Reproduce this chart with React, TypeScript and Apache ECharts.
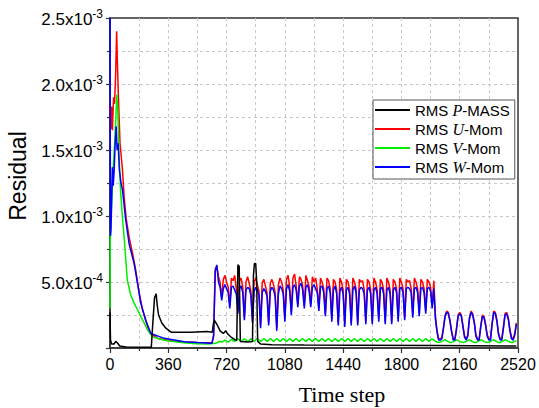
import React, { useEffect, useRef } from 'react';
import * as echarts from 'echarts';

// Values in units of 1e-4
const seriesLetters = ['P', 'U', 'V', 'W'];
const seriesSuffix = ['-MASS', '-Mom', '-Mom', '-Mom'];
const seriesColors = ['#000000', '#ff0000', '#00ee00', '#0000ff'];
const xTitle = 'Time step';
const yTitle = 'Residual';

// P-MASS (black) : [time step, residual x1e-4]
const pMass = [
  [0, 2.7], [3, 0.6], [10, 0.3], [25, 0.3], [35, 0.5], [45, 0.4], [60, 0.15], [100, 0.08], [200, 0.05],
  [255, 0.05], [265, 2.0], [275, 3.8], [285, 4.1], [292, 3.2], [300, 2.5], [320, 1.9], [345, 1.5],
  [377, 1.2], [420, 1.2], [500, 1.2], [600, 1.25], [632, 1.2], [638, 1.8], [645, 2.1], [660, 1.8],
  [680, 1.3], [700, 1.1], [715, 1.3], [725, 1.1], [750, 0.8], [775, 0.6], [783, 0.6], [790, 6.3],
  [798, 6.2], [805, 0.5], [850, 0.45], [880, 0.5], [886, 5.5], [892, 6.4], [900, 6.4], [906, 5.0],
  [912, 0.5], [930, 0.3], [1000, 0.25], [1200, 0.22], [1500, 0.2], [2000, 0.18], [2510, 0.15],
];

// early part (t < 600) of U, V, W
const uEarly = [
  [0, 19.0], [5, 16.6], [10, 18.3], [15, 16.5], [22, 19.0], [28, 18.5], [35, 20.8], [41, 24.0],
  [46, 21.5], [52, 19.0], [62, 15.5], [77, 13.5], [87, 11.5], [100, 9.8], [118, 8.4], [139, 7.2],
  [159, 5.9], [180, 4.2], [201, 2.9], [232, 1.6], [252, 1.1], [294, 0.73], [377, 0.55], [459, 0.45],
  [540, 0.42],
];
const vEarly = [
  [0, 3.0], [2, 8.2], [10, 11.0], [20, 13.7], [30, 15.8], [36, 17.5], [42, 19.2], [48, 18.0],
  [55, 15.0], [65, 12.0], [76, 10.0], [87, 8.4], [107, 5.15], [128, 4.0], [149, 3.4], [170, 2.9],
  [190, 2.4], [211, 1.9], [232, 1.36], [263, 0.86], [300, 0.7], [352, 0.55], [455, 0.4], [540, 0.32],
];
const wEarly = [
  [0, 25.0], [3, 8.5], [6, 9.0], [10, 11.0], [15, 13.7], [20, 12.3], [25, 13.3], [32, 15.5],
  [38, 16.8], [44, 15.0], [50, 15.5], [58, 13.5], [68, 12.5], [77, 12.0], [97, 9.7], [118, 7.9],
  [149, 6.4], [170, 4.9], [190, 3.4], [221, 2.1], [252, 1.1], [335, 0.73], [459, 0.48], [540, 0.42],
];

// regular samples from t = 600, every 10 steps, up to 2510
const GRID_START = 600;
const GRID_STEP = 10;
const uGrid = [
  0.4, 0.4, 0.4, 0.42, 1.0, 6.0, 6.2, 5.4, 5.0, 3.8,
  5.2, 5.5, 5.0, 4.6, 3.2, 5.3, 5.1, 5.5, 4.5, 2.8,
  5.1, 5.3, 4.6, 2.3, 5.0, 5.4, 4.9, 4.3, 2.1, 5.0,
  5.3, 4.8, 4.3, 1.7, 4.9, 5.2, 4.7, 4.2, 1.9, 4.9,
  5.2, 4.8, 4.2, 1.5, 4.8, 5.3, 5.0, 4.4, 2.2, 5.2,
  5.5, 4.6, 2.7, 5.3, 5.6, 4.7, 3.3, 5.4, 5.2, 4.7,
  3.2, 5.5, 5.1, 4.6, 3.3, 5.4, 5.0, 5.3, 4.5, 3.0,
  5.3, 5.0, 4.5, 2.6, 5.3, 5.1, 4.5, 2.2, 5.2, 5.0,
  4.4, 1.9, 5.3, 5.0, 4.4, 1.8, 5.2, 5.0, 4.4, 1.9,
  5.3, 5.0, 4.5, 1.9, 5.2, 5.0, 5.1, 4.4, 2.0, 5.2,
  5.0, 4.4, 2.0, 5.3, 5.0, 4.4, 2.2, 5.2, 5.0, 4.4,
  2.0, 5.3, 5.0, 4.4, 2.0, 5.2, 5.0, 4.5, 2.2, 5.3,
  5.0, 4.5, 2.3, 5.2, 5.0, 5.1, 4.5, 2.5, 5.3, 5.0,
  4.5, 2.6, 5.2, 5.0, 4.5, 2.8, 5.2, 5.0, 4.6, 3.2,
  5.1, 2.4, 1.3, 0.7, 0.7, 0.8, 1.6, 2.5, 2.8, 2.7,
  2.1, 1.3, 0.7, 0.7, 1.5, 2.5, 2.7, 2.5, 1.7, 0.9,
  0.7, 1.0, 2.3, 2.8, 2.6, 2.0, 1.0, 0.7, 0.7, 1.7,
  2.5, 2.4, 1.8, 1.0, 0.7, 0.7, 1.9, 2.8, 2.7, 2.1,
  1.1, 0.7, 0.7, 1.6, 2.6, 2.7, 2.3, 1.4, 0.8, 0.7,
  1.1, 1.9,
];
const vGrid = [
  0.3, 0.3, 0.32, 0.35, 0.35, 0.35, 0.4, 0.45, 0.5, 0.45,
  0.5, 0.6, 0.5, 0.45, 0.55, 0.65, 0.55, 0.5, 0.6, 0.7,
  0.6, 0.5, 0.6, 0.7, 0.6, 0.5, 0.55, 0.7, 0.6, 0.5,
  0.6, 0.72, 0.6, 0.5, 0.6, 0.72, 0.62, 0.5, 0.6, 0.72,
  0.62, 0.5, 0.6, 0.72, 0.62, 0.5, 0.6, 0.72, 0.62, 0.5,
  0.6, 0.72, 0.62, 0.5, 0.62, 0.72, 0.6, 0.5, 0.62, 0.72,
  0.6, 0.5, 0.62, 0.72, 0.6, 0.5, 0.62, 0.72, 0.6, 0.5,
  0.62, 0.72, 0.6, 0.5, 0.62, 0.72, 0.6, 0.5, 0.6, 0.72,
  0.62, 0.5, 0.6, 0.72, 0.62, 0.5, 0.6, 0.72, 0.6, 0.5,
  0.62, 0.72, 0.6, 0.5, 0.62, 0.72, 0.6, 0.5, 0.6, 0.72,
  0.62, 0.5, 0.6, 0.72, 0.6, 0.5, 0.62, 0.72, 0.6, 0.5,
  0.6, 0.72, 0.62, 0.5, 0.6, 0.72, 0.6, 0.5, 0.62, 0.72,
  0.6, 0.5, 0.6, 0.72, 0.62, 0.5, 0.6, 0.72, 0.6, 0.5,
  0.62, 0.72, 0.6, 0.5, 0.6, 0.72, 0.62, 0.5, 0.6, 0.7,
  0.6, 0.5, 0.45, 0.42, 0.45, 0.5, 0.58, 0.62, 0.55, 0.48,
  0.42, 0.42, 0.48, 0.55, 0.62, 0.58, 0.5, 0.45, 0.42, 0.45,
  0.5, 0.58, 0.62, 0.55, 0.48, 0.42, 0.42, 0.48, 0.55, 0.62,
  0.58, 0.5, 0.45, 0.42, 0.45, 0.5, 0.58, 0.62, 0.55, 0.48,
  0.42, 0.42, 0.48, 0.55, 0.62, 0.58, 0.5, 0.45, 0.42, 0.45,
  0.5, 0.55,
];
const wGrid = [
  0.38, 0.36, 0.36, 0.35, 0.9, 5.8, 6.3, 5.0, 4.6, 3.6,
  4.5, 4.8, 4.5, 4.2, 3.0, 4.6, 4.7, 4.4, 4.1, 2.6,
  4.5, 4.7, 4.2, 2.1, 4.4, 4.6, 4.5, 4.0, 1.9, 4.3,
  4.6, 4.4, 4.0, 1.5, 4.2, 4.5, 4.3, 3.9, 1.7, 4.3,
  4.6, 4.4, 3.9, 1.3, 4.1, 4.7, 4.5, 4.1, 2.0, 4.5,
  4.8, 4.3, 2.5, 4.6, 4.8, 4.4, 3.1, 4.7, 4.9, 4.4,
  3.0, 4.6, 4.8, 4.3, 3.1, 4.6, 4.8, 4.5, 4.2, 2.8,
  4.6, 4.7, 4.2, 2.4, 4.5, 4.7, 4.2, 2.0, 4.4, 4.7,
  4.1, 1.7, 4.3, 4.6, 4.1, 1.6, 4.4, 4.6, 4.1, 1.7,
  4.4, 4.7, 4.2, 1.7, 4.4, 4.6, 4.5, 4.1, 1.8, 4.4,
  4.6, 4.1, 1.8, 4.4, 4.6, 4.1, 2.0, 4.5, 4.6, 4.1,
  1.8, 4.4, 4.6, 4.1, 1.8, 4.4, 4.6, 4.2, 2.0, 4.5,
  4.6, 4.2, 2.1, 4.5, 4.6, 4.5, 4.2, 2.3, 4.5, 4.6,
  4.2, 2.4, 4.5, 4.6, 4.2, 2.6, 4.5, 4.6, 4.3, 3.0,
  4.5, 2.2, 1.2, 0.6, 0.6, 0.7, 1.5, 2.4, 2.7, 2.6,
  2.0, 1.2, 0.6, 0.6, 1.4, 2.4, 2.6, 2.4, 1.6, 0.8,
  0.6, 0.9, 2.2, 2.7, 2.5, 1.9, 0.9, 0.6, 0.6, 1.6,
  2.4, 2.3, 1.7, 0.9, 0.6, 0.6, 1.8, 2.7, 2.6, 2.0,
  1.0, 0.6, 0.6, 1.5, 2.5, 2.6, 2.2, 1.3, 0.7, 0.6,
  1.0, 1.8,
];

const UNIT = 1e-4;

function build(early: number[][], grid: number[]) {
  const a = early.map(([t, v]) => [t, v * UNIT]);
  const b = grid.map((v, i) => [GRID_START + i * GRID_STEP, v * UNIT]);
  return a.concat(b);
}

const names = seriesLetters.map((l, i) => `RMS ${l}${seriesSuffix[i]}`);

export default function App() {
  const ref = useRef<HTMLDivElement>(null);
  useEffect(() => {
    if (!ref.current) return;
    const chart = echarts.init(ref.current, undefined, { renderer: 'svg' });
    const dataSets = [
      pMass.map(([t, v]) => [t, v * UNIT]),
      build(uEarly, uGrid),
      build(vEarly, vGrid),
      build(wEarly, wGrid),
    ];
    const gridLine = { color: '#c8c8c8', type: [3, 3] as any, width: 1 };
    const axisCol = '#333';
    const series: any[] = [1, 2, 3, 0].map((k) => ({
      name: names[k],
      type: 'line',
      data: dataSets[k],
      symbol: 'none',
      showSymbol: false,
      z: k === 0 ? 4 : 2,
      lineStyle: { color: seriesColors[k], width: 1.5 },
      itemStyle: { color: seriesColors[k] },
    }));
    chart.setOption({
      animation: false,
      backgroundColor: '#fff',
      grid: {
        left: 110, right: 21, top: 18, bottom: 60,
        show: true, borderColor: axisCol, borderWidth: 1.5, backgroundColor: 'transparent',
      },
      graphic: [
        {
          type: 'text', x: 342, y: 394, z: 20,
          style: { text: xTitle, fontFamily: 'Liberation Serif', fontSize: 22, fill: '#000', align: 'center', verticalAlign: 'middle' },
        },
        {
          type: 'text', x: 18, y: 176, rotation: Math.PI / 2, z: 20,
          style: { text: yTitle, fontFamily: 'Liberation Sans', fontSize: 23, fill: '#000', align: 'center', verticalAlign: 'middle' },
        },
      ],
      legend: {
        data: names,
        orient: 'vertical',
        left: 373,
        top: 100,
        padding: [2, 5, 4, 2],
        icon: 'rect',
        itemWidth: 35,
        itemHeight: 2,
        itemGap: 3,
        backgroundColor: '#fff',
        borderColor: '#555',
        borderWidth: 1,
        borderRadius: 0,
        z: 10,
        formatter: (n: string) => {
          const i = names.indexOf(n);
          return `{a|RMS }{i|${seriesLetters[i]}}{a|${seriesSuffix[i]}}`;
        },
        textStyle: {
          lineHeight: 15,
          rich: {
            a: { fontFamily: 'Liberation Sans', fontSize: 15, color: '#000', lineHeight: 15 },
            i: { fontFamily: 'Liberation Serif', fontStyle: 'italic', fontSize: 16, color: '#000', lineHeight: 15 },
          },
        },
      },
      xAxis: {
        type: 'value', min: 0, max: 2520, interval: 360,
        axisLine: { show: true, onZero: false, lineStyle: { color: axisCol, width: 1.5 } },
        axisTick: { show: true, length: 5, lineStyle: { color: axisCol, width: 1.2 } },
        minorTick: { show: true, splitNumber: 2, length: 3, lineStyle: { color: axisCol, width: 1.2 } },
        axisLabel: {
          margin: 8, fontFamily: 'Liberation Sans', fontSize: 16, color: '#000',
          formatter: (v: number) => String(v),
        },
        splitLine: { show: true, showMinLine: false, showMaxLine: false, lineStyle: gridLine },
        minorSplitLine: { show: true, lineStyle: gridLine },
      },
      yAxis: {
        type: 'value', min: 0, max: 0.0025, interval: 0.0005,
        axisLine: { show: true, onZero: false, lineStyle: { color: axisCol, width: 1.5 } },
        axisTick: { show: true, length: 4, lineStyle: { color: axisCol, width: 1.2 } },
        minorTick: { show: true, splitNumber: 2, length: 3, lineStyle: { color: axisCol, width: 1.2 } },
        axisLabel: {
          margin: 7,
          formatter: (v: number) => {
            if (v <= 0) return '';
            const e = Math.floor(Math.log10(v) + 1e-9);
            const m = (v / Math.pow(10, e)).toFixed(1);
            return `{b|${m}x10}{s|${e}}`;
          },
          rich: {
            b: { fontFamily: 'Liberation Sans', fontSize: 17, color: '#000', lineHeight: 20, verticalAlign: 'bottom' },
            s: { fontFamily: 'Liberation Sans', fontSize: 12, color: '#000', lineHeight: 20, verticalAlign: 'top' },
          },
        },
        splitLine: { show: true, showMinLine: false, showMaxLine: false, lineStyle: gridLine },
        minorSplitLine: { show: true, lineStyle: gridLine },
      },
      series,
    });
    return () => chart.dispose();
  }, []);
  return <div ref={ref} style={{ width: 539, height: 408, position: 'absolute', left: 0, top: 0 }} />;
}
